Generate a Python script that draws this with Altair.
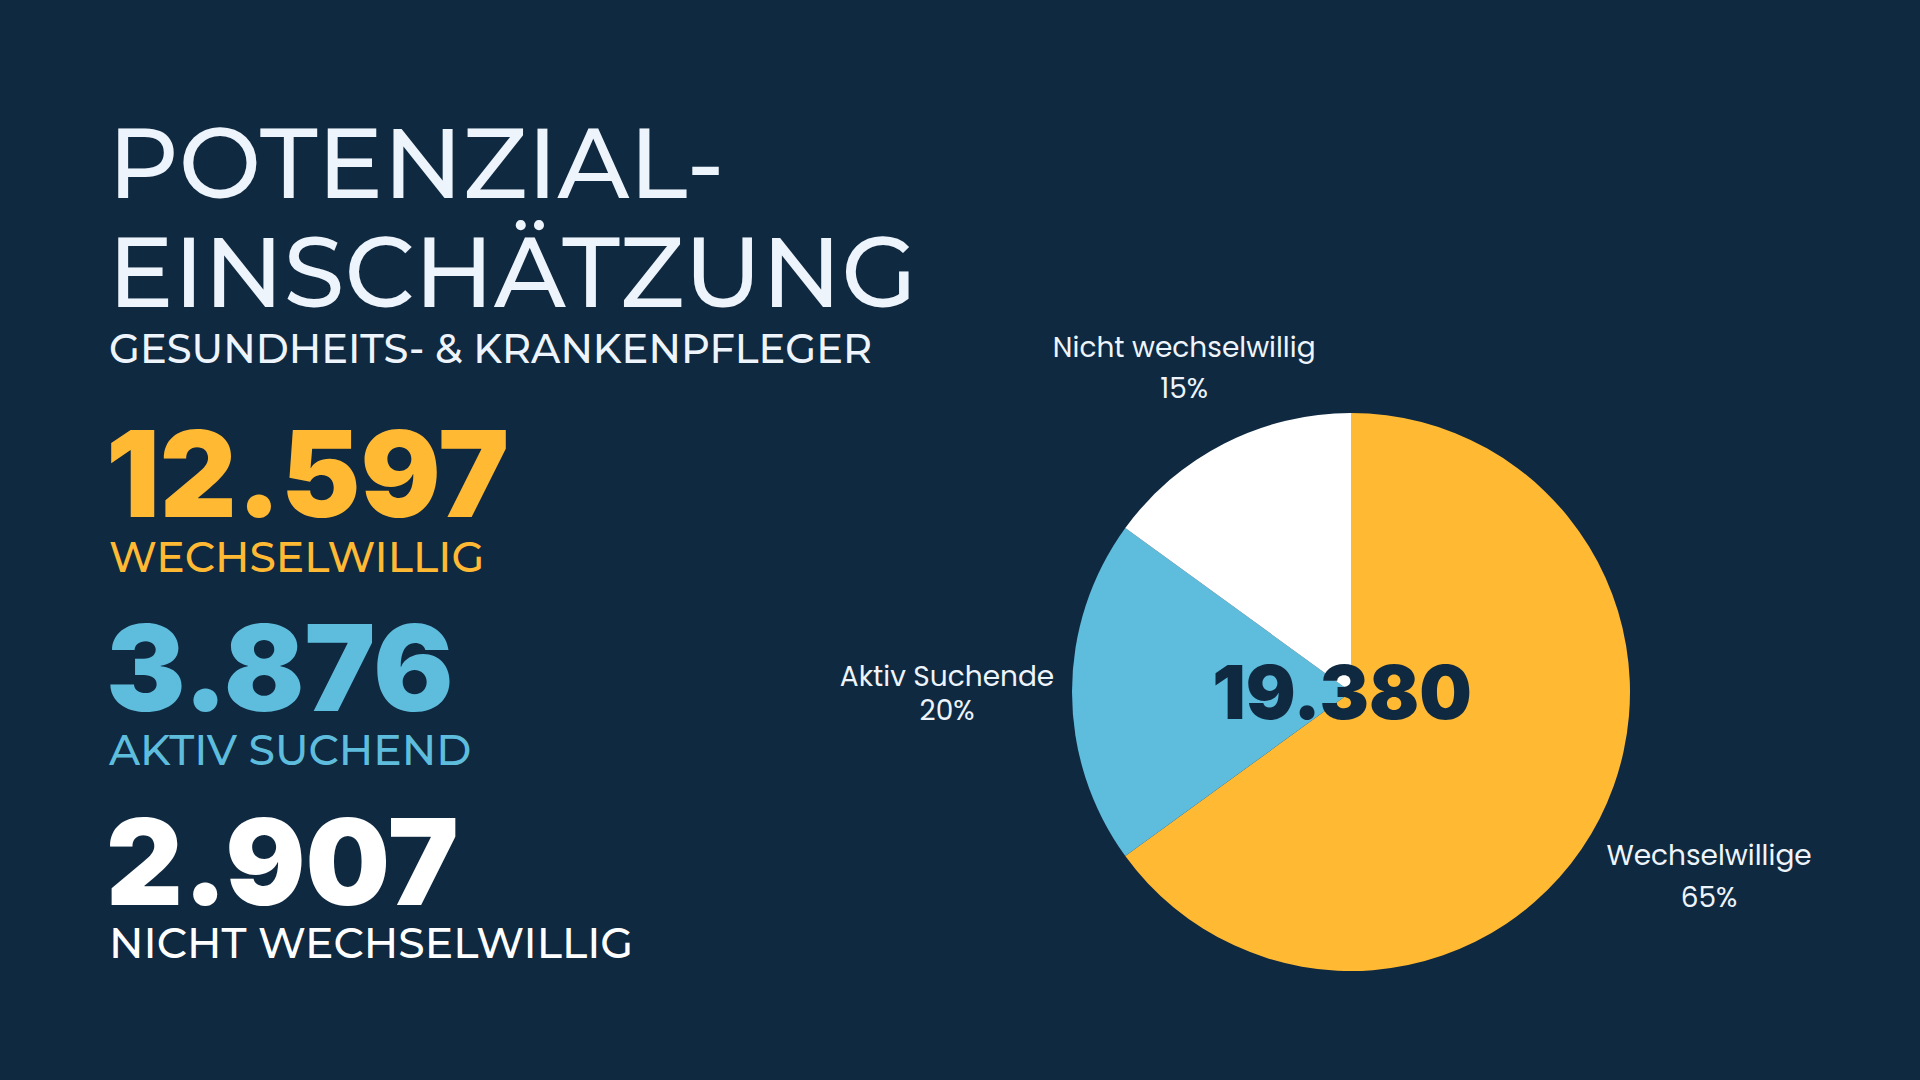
import altair as alt
import pandas as pd

# ---- data ----
categories = ["Wechselwillige", "Aktiv Suchende", "Nicht wechselwillig"]
stat_labels = ["WECHSELWILLIG", "AKTIV SUCHEND", "NICHT WECHSELWILLIG"]
values = [12597, 3876, 2907]
colors = ["#FFB933", "#5EBCDC", "#FFFFFF"]
title_lines = ["POTENZIAL-", "EINSCHÄTZUNG"]
subtitle = "GESUNDHEITS- & KRANKENPFLEGER"

BG = "#0F2941"
TXT = "#EEF4FB"
TITLE_FONT = "Montserrat, Inter, sans-serif"

df = pd.DataFrame({
    "cat": categories,
    "label": stat_labels,
    "value": values,
    "idx": list(range(len(categories))),
})

color_enc = alt.Color("cat:N", scale=alt.Scale(domain=categories, range=colors), legend=None)

base = alt.Chart(df).transform_joinaggregate(total="sum(value)").transform_calculate(
    pct="round(datum.value / datum.total * 100) + '%'",
    num="replace(format(datum.value, ','), ',', '.')",
    lab="datum.cat + '\\n' + round(datum.value / datum.total * 100) + '%'",
)

CX, CY, R = 1351, 692, 279

pie = base.mark_arc(outerRadius=R).encode(
    theta=alt.Theta("value:Q", stack=True),
    color=color_enc,
    order=alt.Order("idx:Q", sort="ascending"),
    x=alt.value(CX),
    y=alt.value(CY),
)

# per-label fine offsets (dx, dy, line height)
label_style = [(15, -2, 42), (-19, -6, 34), (8, 8, 41)]
label_layers = []
for i, (ddx, ddy, lh) in enumerate(label_style):
    label_layers.append(
        base.mark_text(
            radius=385, fontSize=28, lineBreak="\n", lineHeight=lh, dx=ddx, dy=ddy,
            font="Poppins, Open Sans, sans-serif", color=TXT, align="center", baseline="alphabetic",
        ).encode(
            theta=alt.Theta("value:Q", stack=True),
            order=alt.Order("idx:Q", sort="ascending"),
            text="lab:N",
            opacity=alt.condition(f"datum.idx == {i}", alt.value(1), alt.value(0)),
            x=alt.value(CX),
            y=alt.value(CY),
        )
    )

center_total = alt.Chart(df).transform_aggregate(total="sum(value)").transform_calculate(
    t="replace(format(datum.total, ','), ',', '.')"
).mark_text(
    font="Inter", fontSize=74, fontWeight=900, color=BG, align="center", baseline="alphabetic",
).encode(text="t:N", x=alt.value(CX - 9), y=alt.value(719))

title_df = pd.DataFrame({"t": title_lines, "i": [0, 1]})
title_layers = []
for i, yb in enumerate([198, 307]):
    title_layers.append(
        alt.Chart(title_df).transform_filter(f"datum.i == {i}").mark_text(
            font=TITLE_FONT, fontSize=98, fontWeight=500, color=TXT, align="left", baseline="alphabetic",
        ).encode(text="t:N", x=alt.value(108), y=alt.value(yb))
    )

sub = alt.Chart(pd.DataFrame({"t": [subtitle]})).mark_text(
    font=TITLE_FONT, fontSize=40, fontWeight=500, color=TXT, align="left", baseline="alphabetic",
).encode(text="t:N", x=alt.value(109), y=alt.value(363))

stat_layers = []
num_base = [517, 711, 905]
lab_base = [572, 765, 958]
for i in range(len(categories)):
    b = base.transform_filter(f"datum.idx == {i}")
    stat_layers.append(
        b.mark_text(font="Inter", fontSize=119, fontWeight=900, align="left", baseline="alphabetic").encode(
            text="num:N", color=color_enc, x=alt.value(106), y=alt.value(num_base[i])
        )
    )
    stat_layers.append(
        b.mark_text(font=TITLE_FONT, fontSize=42.5, fontWeight=500, align="left", baseline="alphabetic").encode(
            text="label:N", color=color_enc, x=alt.value(109), y=alt.value(lab_base[i])
        )
    )

chart = alt.layer(pie, *label_layers, center_total, *title_layers, sub, *stat_layers).properties(
    width=1920, height=1080, autosize="none", padding=0, background=BG
).configure_view(stroke=None)

chart.save("out.html", embed_options={"renderer": "svg", "actions": False})
